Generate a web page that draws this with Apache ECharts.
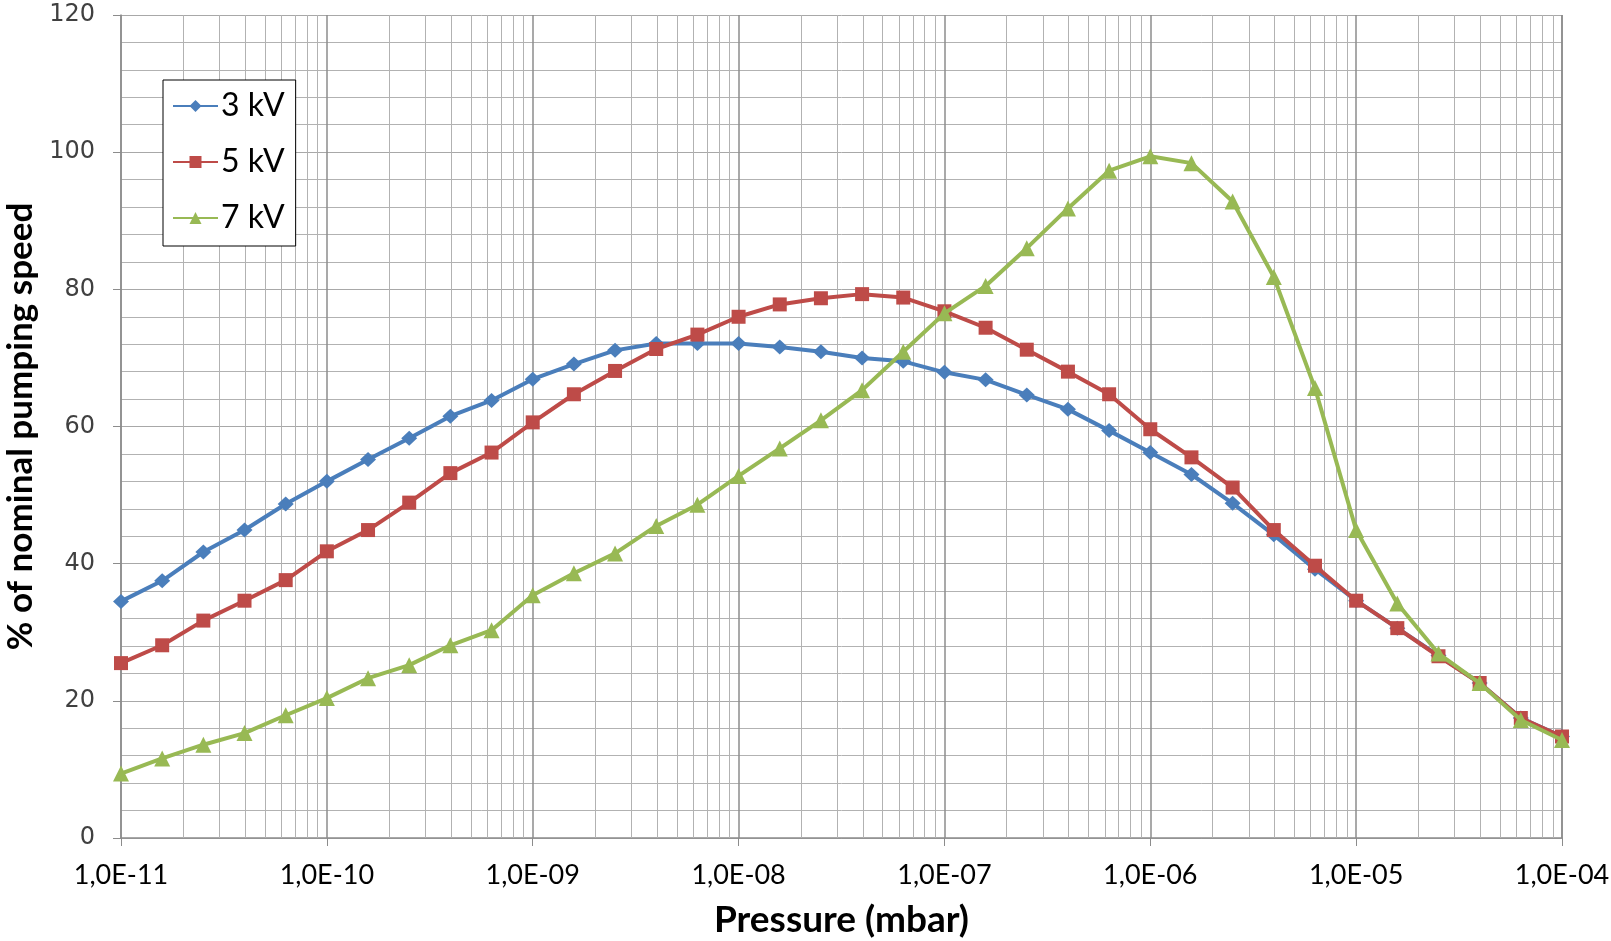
<!DOCTYPE html>
<html>
<head>
<meta charset="utf-8">
<script src="https://cdn.jsdelivr.net/npm/echarts@6/dist/echarts.min.js"></script>
<style>
html,body{margin:0;padding:0;background:#fff;}
#chart{width:1611px;height:941px;}
</style>
</head>
<body>
<div id="chart"></div>
<script>
// Pressure (mbar), 5 points per decade
const pressure = [
  1e-11, 1.585e-11, 2.512e-11, 3.981e-11, 6.31e-11,
  1e-10, 1.585e-10, 2.512e-10, 3.981e-10, 6.31e-10,
  1e-9, 1.585e-9, 2.512e-9, 3.981e-9, 6.31e-9,
  1e-8, 1.585e-8, 2.512e-8, 3.981e-8, 6.31e-8,
  1e-7, 1.585e-7, 2.512e-7, 3.981e-7, 6.31e-7,
  1e-6, 1.585e-6, 2.512e-6, 3.981e-6, 6.31e-6,
  1e-5, 1.585e-5, 2.512e-5, 3.981e-5, 6.31e-5,
  1e-4
];
const seriesNames = ['3 kV', '5 kV', '7 kV'];
const speed3kV = [34.5,37.5,41.7,44.9,48.7, 52.0,55.2,58.3,61.5,63.8, 66.9,69.1,71.1,72.1,72.1, 72.1,71.6,70.9,70.0,69.5, 67.9,66.8,64.6,62.5,59.4, 56.2,53.0,48.8,44.2,39.2, 34.6,30.6,26.6,22.6,17.5, 14.8];
const speed5kV = [25.5,28.1,31.7,34.6,37.6, 41.8,44.9,48.9,53.2,56.2, 60.6,64.7,68.1,71.3,73.4, 76.0,77.8,78.7,79.3,78.8, 76.8,74.4,71.2,68.0,64.7, 59.6,55.5,51.1,44.9,39.7, 34.6,30.6,26.5,22.6,17.5, 14.8];
const speed7kV = [9.4,11.6,13.6,15.3,17.9, 20.4,23.3,25.2,28.1,30.3, 35.4,38.6,41.5,45.5,48.6, 52.8,56.8,60.9,65.3,70.9, 76.5,80.5,86.0,91.8,97.3, 99.4,98.4,92.8,81.8,65.6, 44.9,34.2,26.9,22.6,17.2, 14.3];
const decadeExponents = [-11,-10,-9,-8,-7,-6,-5,-4];
const yMin = 0, yMax = 120, yStep = 20;

const colors = ['#4A7EBB', '#BE4B48', '#98B954'];
const symbols = ['diamond', 'rect', 'triangle'];
const symbolSizes = [[16,15], 14, 16];

// minor vertical grid values (2..9 x 10^d)
const minorX = [];
for (let i = 0; i < decadeExponents.length - 1; i++) {
  for (let k = 2; k <= 9; k++) minorX.push(k * Math.pow(10, decadeExponents[i]));
}

function fmtX(v) {
  const e = Math.round(Math.log10(v));
  return '1,0E' + (e < 0 ? '-' : '+') + String(Math.abs(e)).padStart(2, '0');
}

const allData = [speed3kV, speed5kV, speed7kV];
const series = seriesNames.map((n, i) => ({
  name: n,
  type: 'line',
  data: pressure.map((p, j) => [p, allData[i][j]]),
  symbol: symbols[i],
  symbolSize: symbolSizes[i],
  showAllSymbol: true,
  lineStyle: { color: colors[i], width: 4 },
  itemStyle: { color: colors[i] },
  z: 3 + i,
  animation: false
}));
series.unshift({
  name: 'minorGrid',
  type: 'custom',
  z: 1,
  silent: true,
  animation: false,
  data: minorX,
  encode: { x: 0 },
  renderItem: function (params, api) {
    const v = api.value(0);
    const p1 = api.coord([v, yMin]);
    const p2 = api.coord([v, yMax]);
    return {
      type: 'line',
      shape: { x1: Math.round(p1[0]) + 0.5, y1: p1[1], x2: Math.round(p2[0]) + 0.5, y2: p2[1] },
      style: { stroke: '#b2b2b2', lineWidth: 1 },
      silent: true
    };
  }
});

const chart = echarts.init(document.getElementById('chart'), null, { renderer: 'canvas' });
chart.setOption({
  backgroundColor: '#ffffff',
  animation: false,
  grid: { left: 121, right: 49, top: 15, bottom: 103, containLabel: false, outerBoundsMode: 'none' },
  legend: {
    data: seriesNames,
    orient: 'vertical',
    left: 163,
    top: 80,
    padding: [10, 11, 12, 9],
    itemGap: 24,
    itemWidth: 45,
    itemHeight: 15,
    backgroundColor: '#ffffff',
    borderColor: '#000000',
    borderWidth: 1,
    borderRadius: 0,
    textStyle: { fontFamily: 'Lato, Carlito, sans-serif', fontSize: 32, color: '#000', padding: [0,0,0,-2], lineHeight: 32 }
  },
  xAxis: {
    type: 'log',
    logBase: 10,
    min: 1e-11,
    max: 1e-4,
    splitNumber: 7,
    name: 'Pressure (mbar)',
    nameLocation: 'middle',
    nameGap: 64,
    nameTextStyle: { fontFamily: 'Lato, Carlito, sans-serif', fontWeight: 'bold', fontSize: 37, color: '#000' },
    axisLine: { show: true, lineStyle: { color: '#8c8c8c', width: 1.5 } },
    axisTick: { show: true, length: 8, lineStyle: { color: '#8c8c8c' } },
    axisLabel: { formatter: fmtX, fontFamily: 'Lato, Carlito, sans-serif', fontSize: 27, color: '#000', margin: 24 },
    splitLine: { show: true, lineStyle: { color: '#8c8c8c', width: 1.5 } },
    minorTick: { show: false },
    minorSplitLine: { show: false }
  },
  yAxis: {
    type: 'value',
    min: yMin,
    max: yMax,
    interval: yStep,
    name: '% of nominal pumping speed',
    nameLocation: 'middle',
    nameGap: 73,
    nameRotate: 90,
    nameTextStyle: { fontFamily: 'Lato, Carlito, sans-serif', fontWeight: 'bold', fontSize: 35, color: '#000' },
    axisLine: { show: true, lineStyle: { color: '#8c8c8c', width: 1.5 } },
    axisTick: { show: true, length: 8, lineStyle: { color: '#8c8c8c' } },
    axisLabel: { fontFamily: 'DejaVu Sans, sans-serif', fontSize: 24, color: '#404040', margin: 26 },
    splitLine: { show: true, lineStyle: { color: '#a8a8a8', width: 1 } },
    minorTick: { show: false, splitNumber: 5 },
    minorSplitLine: { show: true, lineStyle: { color: '#b2b2b2', width: 1 } }
  },
  series: series
});
</script>
</body>
</html>
